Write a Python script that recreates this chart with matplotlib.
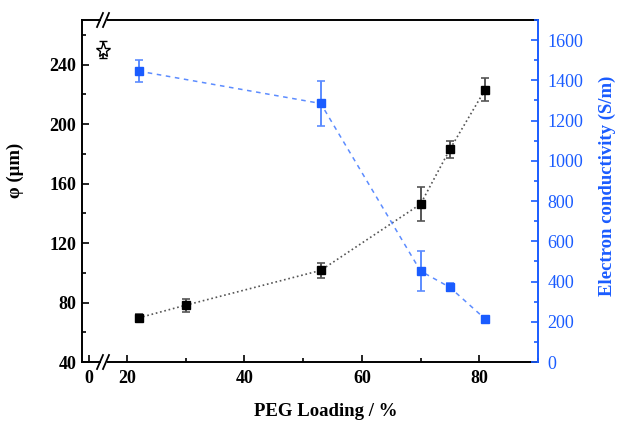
import matplotlib.pyplot as plt
from matplotlib.ticker import MultipleLocator, FixedLocator
from matplotlib.lines import Line2D

plt.rcParams['font.family'] = ['Liberation Serif', 'DejaVu Serif']

# thickness data (black, left axis)
peg_loading = [22, 30, 53, 70, 75, 81]
phi = [69.7, 78.2, 101.6, 146.2, 183.1, 223.2]
phi_err = [2.5, 4.5, 4.8, 11.2, 5.8, 7.6]

# reference sample at 0 % (star)
star_x = [4]
star_phi = [250]
star_err = [5.6]

# electron conductivity (blue, right axis)
cond_x = [22, 53, 70, 75, 81]
cond = [1446, 1285, 452, 371, 214]
cond_err = [53, 112, 99, 20, 8]

blue = '#1a5cff'
W, H = 619, 423

fig = plt.figure(figsize=(W / 100, H / 100), dpi=100)
L, R, B, T = 82 / W, 538 / W, 61 / H, 403 / H
brk_l, brk_r = 100 / W, 108 / W

ax0 = fig.add_axes([L, B, brk_l - L, T - B])
ax = fig.add_axes([brk_r, B, R - brk_r, T - B], sharey=ax0)
ax2 = ax.twinx()
ax.patch.set_visible(False)
ax2.patch.set_visible(False)
ax0.set_zorder(3)
ax0.patch.set_visible(False)

ax0.set_xlim(-2, -2 + 18 / 3.5)
ax.set_xlim(16.77, 90)
ax0.set_ylim(40, 270)
ax2.set_ylim(0, 1700)

# spines
for a in (ax0, ax, ax2):
    for s in a.spines.values():
        s.set_linewidth(1.4)
ax0.spines['right'].set_visible(False)
ax.spines['left'].set_visible(False)
ax.spines['right'].set_visible(False)
for s in ('left', 'top', 'bottom'):
    ax2.spines[s].set_visible(False)
ax2.spines['right'].set_color(blue)

# ticks
ax0.xaxis.set_major_locator(FixedLocator([0]))
ax0.yaxis.set_major_locator(MultipleLocator(40))
ax0.yaxis.set_minor_locator(MultipleLocator(20))
ax.xaxis.set_major_locator(MultipleLocator(20))
ax.xaxis.set_minor_locator(MultipleLocator(10))
ax2.yaxis.set_major_locator(MultipleLocator(200))
ax2.yaxis.set_minor_locator(MultipleLocator(100))

tick_font = dict(labelsize=13)
ax0.tick_params(axis='both', which='major', direction='in', length=5, width=1.2, **tick_font)
ax0.tick_params(axis='both', which='minor', direction='in', length=3, width=1.2)
ax0.tick_params(axis='y', pad=4)
ax0.tick_params(axis='x', pad=6)
ax.tick_params(axis='x', which='major', direction='in', length=5, width=1.2, pad=6, **tick_font)
ax.tick_params(axis='x', which='minor', direction='in', length=3, width=1.2)
ax.tick_params(axis='y', which='both', left=False, labelleft=False)
ax2.tick_params(axis='y', which='major', direction='in', length=5, width=1.2, pad=7,
                colors=blue, **tick_font)
ax2.tick_params(axis='y', which='minor', direction='in', length=3, width=1.2, colors=blue)
for lab in ax0.get_xticklabels() + ax0.get_yticklabels() + ax.get_xticklabels():
    lab.set_fontweight('bold')

# data
ax.plot(peg_loading, phi, ':', color='#555555', lw=1.2)
ax.errorbar(peg_loading, phi, yerr=phi_err, fmt='s', color='black', ms=6,
            ecolor='#555555', elinewidth=1.4, capsize=3, capthick=1.2)
ax2.plot(cond_x, cond, color='#5c8cff', lw=1.1, dashes=(3, 3))
ax2.errorbar(cond_x, cond, yerr=cond_err, fmt='s', color=blue, ms=6,
             ecolor='#5c8cff', elinewidth=1.4, capsize=3, capthick=1.2)
star = ax0.errorbar(star_x, star_phi, yerr=star_err, fmt='*', mfc='white', mec='black',
                    ms=11, mew=1.0, ecolor='black', elinewidth=1.2, capsize=3)
for art in star.get_children():
    art.set_clip_on(False)

# break marks
def px(x, y):
    return x / W, 1 - y / H

for xc in (100, 106):
    for yc in (20, 362):
        (x1, y1), (x2, y2) = px(xc - 3, yc + 7), px(xc + 3, yc - 7)
        fig.add_artist(Line2D([x1, x2], [y1, y2], color='black', lw=1.3))

# labels
ax0.set_ylabel('φ (μm)', fontsize=13.5, fontweight='bold')
ax0.yaxis.set_label_coords((24 - 82) / 18, 0.56)
ax.set_xlabel('PEG Loading / %', fontsize=13.5, fontweight='bold')
ax.xaxis.set_label_coords(0.507, -0.12)
ax2.set_ylabel('Electron conductivity (S/m)', fontsize=13.5, fontweight='bold', color=blue)
ax2.yaxis.set_label_coords(1.14, 0.515)

fig.savefig('out.png', dpi=100)
